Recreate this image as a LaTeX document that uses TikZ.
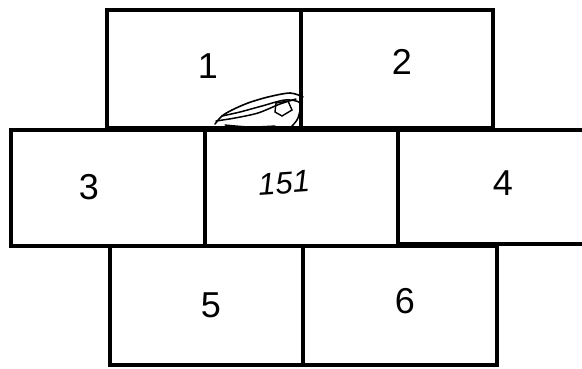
\documentclass[tikz,border=0pt]{standalone}
\usepackage{fontspec}
\setmainfont{Liberation Sans}
\usetikzlibrary{positioning}

\begin{document}
\begin{tikzpicture}[x=1pt,y=-1pt,
  cell/.style={draw,line width=3.2pt,inner sep=0pt,minimum width=#1,minimum height=118pt},
  num/.style={font=\fontsize{36}{36}\selectfont}]
\clip (0,0) rectangle (582,368);
% top row
\node (b1) [cell=194pt] at (204,69) {};
\node (b2) [cell=192pt] at (397,69) {};
% bottom row
\node (b5) [cell=193pt,minimum height=119pt] at (206.5,305.5) {};
\node (b6) [cell=194pt,minimum height=119pt] at (400,305.5) {};
% middle row
\node (b3) [cell=194pt,minimum height=116pt] at (108,188) {};
\node (b4) [cell=210pt,minimum height=114pt] at (503,187) {};
\node (b151) [cell=193pt,minimum height=116pt,line width=4.5pt] at (301.5,188) {};
% labels
\node (l1) [num] at (208,66) {1};
\node (l2) [num] at (402,62) {2};
\node (l3) [num] at (89,187) {3};
\node (l151) [font=\fontsize{31}{31}\selectfont\itshape,rotate=4] at (284,183) {151};
\node (l4) [num] at (503,183) {4};
\node (l5) [num] at (211,305) {5};
\node (l6) [num] at (405,301) {6};
% scribble
\draw[line width=1.6pt,line cap=round] plot[smooth] coordinates {(215,124) (222,116) (232,110) (248,103) (268,97) (290,93) (303,97)};
\draw[line width=1.5pt,line cap=round] plot[smooth] coordinates {(216,121) (235,118) (258,113) (280,104) (296,99)};
\draw[line width=1.5pt,line cap=round] plot[smooth] coordinates {(222,116) (240,112) (262,106) (285,100) (300,103) (298,118) (292,126)};
\draw[line width=1.4pt] (276,103) -- (288,101) -- (292,110) -- (282,116) -- (275,112) -- cycle;
\draw[line width=1.4pt,line cap=round] plot[smooth] coordinates {(225,125) (250,127) (275,126)};
\end{tikzpicture}
\end{document}
